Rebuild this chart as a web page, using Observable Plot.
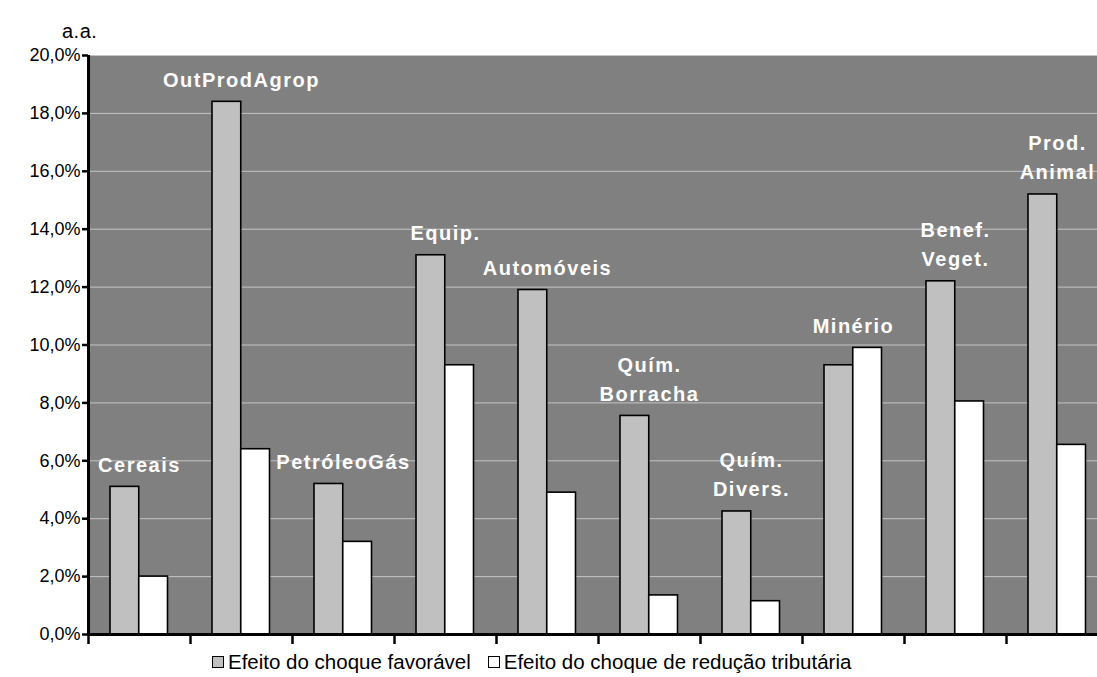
<!DOCTYPE html>
<html><head><meta charset="utf-8">
<script src="https://cdn.jsdelivr.net/npm/d3@7"></script>
<script src="https://cdn.jsdelivr.net/npm/@observablehq/plot@0.6"></script>
<style>
html,body{margin:0;padding:0;background:#fff;overflow:hidden;}
#wrap{position:relative;width:1097px;height:677px;font-family:"Liberation Sans",Arial,sans-serif;color:#000;}
#unit{position:absolute;left:62px;top:20px;font-size:20px;letter-spacing:0.5px;}
#chart{position:absolute;left:0;top:0;}
#legend{position:absolute;top:650px;left:212px;display:flex;align-items:center;font-size:20.5px;white-space:nowrap;}
#legend .item{display:flex;align-items:center;margin-right:17px;}
#legend .sw{width:10px;height:10px;border:1.5px solid #000;margin-right:4px;}
#chart g[aria-label="text"] text{letter-spacing:1.5px;}
</style></head><body>
<div id="wrap"><div id="chart"></div><div id="unit">a.a.</div><div id="legend"></div></div>
<script>
// ---- data ----
const categories = ["Cereais","OutProdAgrop","PetróleoGás","Equip.","Automóveis","Quím. Borracha","Quím. Divers.","Minério","Benef. Veget.","Prod. Animal"];
const barLabels = ["Cereais","OutProdAgrop","PetróleoGás","Equip.","Automóveis","Quím.\nBorracha","Quím.\nDivers.","Minério","Benef.\nVeget.","Prod.\nAnimal"];
const favoravel = [5.1, 18.4, 5.2, 13.1, 11.9, 7.55, 4.25, 9.3, 12.2, 15.2];
const reducao   = [2.0, 6.4, 3.2, 9.3, 4.9, 1.35, 1.15, 9.9, 8.05, 6.55];
const seriesNames = ["Efeito do choque favorável", "Efeito do choque de redução tributária"];
const seriesColors = ["#c0c0c0", "#ffffff"];
const yTicks = [0, 2, 4, 6, 8, 10, 12, 14, 16, 18, 20];

const rows = categories.map((c, i) => ({
  cat: c, label: barLabels[i], fav: favoravel[i], red: reducao[i],
  top: Math.max(favoravel[i], reducao[i])
}));

const fmt = d => d.toFixed(1).replace(".", ",") + "%";

const chart = Plot.plot({
  width: 1097, height: 648,
  marginLeft: 88, marginRight: -11, marginTop: 55, marginBottom: 14,
  style: {fontFamily: "'Liberation Sans', Arial, sans-serif", fontSize: "18px", background: "transparent", color: "#000"},
  x: {domain: categories, padding: 0, label: null},
  y: {domain: [0, 20], label: null},
  marks: [
    Plot.frame({fill: "#808080", stroke: null}),
    Plot.gridY(yTicks.slice(1), {stroke: "#c4c4c4", strokeOpacity: 1, strokeWidth: 1}),
    Plot.barY(rows, {x: "cat", y: "fav", fill: seriesColors[0], stroke: "#000", strokeWidth: 1.6, insetLeft: 22, insetRight: 51.25}),
    Plot.barY(rows, {x: "cat", y: "red", fill: seriesColors[1], stroke: "#000", strokeWidth: 1.6, insetLeft: 50.75, insetRight: 22.5}),
    Plot.text(rows, {x: "cat", y: "top", text: "label", fill: "#fff", fontWeight: "bold", fontSize: 20,
      lineAnchor: "bottom", lineHeight: 1.47, dy: -15}),
    Plot.ruleY([0], {stroke: "#000", strokeWidth: 3}),
    Plot.ruleX([categories[0]], {dx: -51, stroke: "#000", strokeWidth: 3}),
    Plot.axisY({ticks: yTicks, tickSize: 6, tickPadding: 2, tickFormat: fmt, fontSize: 18, stroke: "#000", strokeWidth: 2.5, fill: "#000", label: null}),
    Plot.axisX({tickSize: 10, dx: -51, tickFormat: () => "", stroke: "#000", strokeWidth: 2.5, label: null})
  ]
});
document.getElementById("chart").appendChild(chart);

// legend
const legend = document.getElementById("legend");
seriesNames.forEach((name, i) => {
  const item = document.createElement("div");
  item.className = "item";
  const sw = document.createElement("div");
  sw.className = "sw";
  sw.style.background = seriesColors[i];
  const t = document.createElement("span");
  t.textContent = name;
  item.appendChild(sw); item.appendChild(t);
  legend.appendChild(item);
});
</script>
</body></html>
